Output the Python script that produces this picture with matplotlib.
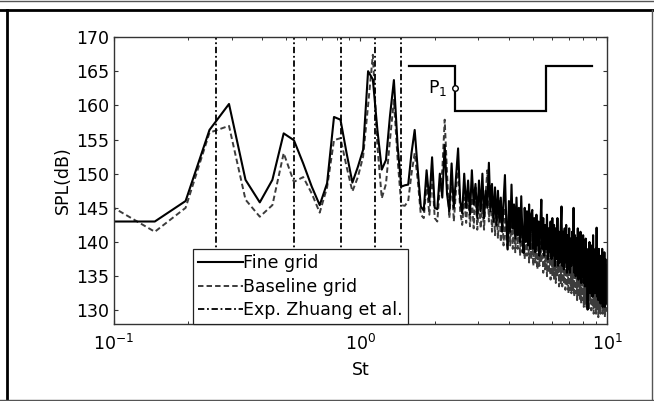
import numpy as np
import matplotlib
matplotlib.use('Agg')
import matplotlib.pyplot as plt
from matplotlib.lines import Line2D

plt.rcParams['font.family'] = 'DejaVu Sans'
plt.rcParams['mathtext.default'] = 'regular'

df = 0.0488
st = df * np.arange(2, 206)

spl_fine = [
    143.0, 143.0, 146.0, 156.4, 160.2, 149.1, 145.8, 149.1, 155.9, 154.9,
    151.5, 148.1, 145.4, 148.6, 158.3, 157.9, 153.0, 148.7, 151.0, 153.5,
    165.0, 163.8, 156.4, 150.6, 152.0, 158.5, 163.7, 154.0, 148.1, 148.3,
    148.4, 153.0, 156.4, 150.5, 145.2, 144.6, 150.5, 146.0, 152.4, 145.0,
    144.8, 150.0, 146.5, 154.2, 147.0, 144.5, 151.5, 145.0, 149.5, 153.7,
    146.0, 144.2, 150.0, 145.0, 149.0, 144.0, 150.5, 145.5, 148.5, 143.5,
    149.0, 144.5, 150.0, 143.5, 147.5, 145.0, 151.6, 144.5, 148.5, 143.0,
    148.0, 142.5, 147.5, 143.0, 146.5, 141.5, 146.0, 149.8, 143.0, 138.9,
    146.0, 141.5, 148.4, 142.0, 145.5, 140.5, 146.5, 141.0, 145.0, 140.0,
    146.7, 141.0, 138.4, 145.0, 140.0, 144.5, 139.5, 145.5, 139.0, 144.0,
    144.7, 139.0, 143.5, 138.5, 144.0, 139.5, 143.0, 138.0, 142.5, 146.2,
    139.0, 143.5, 138.0, 142.5, 139.0, 144.0, 137.5, 142.0, 138.5, 143.0,
    137.5, 143.5, 138.0, 142.5, 136.5, 142.0, 137.5, 143.5, 136.5, 141.5,
    137.0, 142.0, 145.2, 136.5, 141.5, 136.0, 142.0, 137.0, 142.5, 135.5,
    141.0, 136.0, 142.0, 135.5, 140.5, 136.5, 141.5, 137.0, 145.0, 135.5,
    141.0, 135.0, 140.5, 136.0, 142.0, 134.5, 140.0, 135.5, 141.5, 134.0,
    139.5, 135.0, 141.0, 134.0, 139.0, 133.5, 140.5, 134.0, 138.0, 130.1,
    139.0, 133.5, 140.0, 132.5, 138.5, 133.0, 139.5, 132.0, 141.0, 133.0,
    138.5, 132.5, 139.0, 133.0, 142.1, 132.0, 138.5, 131.5, 139.0, 132.0,
    138.0, 131.0, 137.5, 132.5, 139.0, 130.5, 137.0, 131.5, 138.5, 130.5,
    137.5, 131.0, 136.5, 133.0]

spl_base = [
    145.2, 141.5, 145.0, 156.0, 157.0, 146.2, 143.7, 145.4, 153.0, 148.8,
    149.5, 147.1, 144.3, 148.0, 154.9, 155.2, 151.0, 147.4, 149.5, 152.5,
    160.0, 167.4, 154.0, 146.4, 148.5, 155.0, 160.8, 152.0, 145.4, 145.3,
    146.0, 150.0, 153.0, 149.0, 144.0, 143.5, 148.5, 144.0, 150.0, 143.5,
    143.0, 148.0, 150.5, 157.9, 150.0, 143.5, 149.5, 143.0, 147.5, 151.0,
    144.5, 142.5, 146.5, 142.8, 147.0, 142.3, 146.5, 142.0, 148.0, 141.8,
    146.0, 142.0, 145.5, 141.8, 147.0, 150.5, 143.0, 148.5, 141.5, 146.0,
    141.0, 145.5, 140.5, 146.0, 140.0, 144.5, 139.5, 145.0, 140.5, 139.0,
    144.5, 139.5, 145.0, 139.0, 144.0, 138.5, 143.5, 139.0, 144.0, 138.0,
    143.5, 138.5, 141.5, 137.5, 143.0, 138.0, 142.0, 137.0, 142.5, 137.5,
    142.0, 136.5, 141.5, 137.0, 140.5, 136.0, 141.0, 136.5, 140.0, 137.0,
    141.0, 135.5, 140.0, 136.0, 139.5, 135.0, 140.5, 135.5, 139.0, 134.5,
    140.0, 135.0, 138.5, 134.5, 139.5, 134.0, 138.0, 135.0, 139.0, 133.5,
    138.0, 134.0, 139.0, 133.5, 138.5, 134.0, 137.5, 133.0, 138.5, 133.5,
    137.5, 132.5, 138.0, 133.0, 137.0, 132.5, 138.0, 133.0, 136.5, 132.0,
    137.5, 132.5, 136.5, 131.5, 137.0, 132.0, 136.0, 131.5, 137.5, 131.0,
    136.0, 131.5, 136.5, 130.5, 135.5, 131.0, 136.0, 130.5, 135.0, 131.0,
    135.5, 130.0, 135.0, 131.0, 134.5, 130.0, 135.5, 130.5, 134.0, 129.5,
    135.0, 130.5, 134.0, 129.5, 135.0, 130.5, 133.5, 129.0, 134.5, 130.0,
    133.5, 129.5, 134.5, 130.5, 133.0, 129.5, 134.0, 130.0, 133.5, 129.0,
    133.0, 130.0, 132.5, 129.8]

# experimental peak frequencies (Zhuang et al.)
st_exp = [0.259, 0.536, 0.831, 1.145, 1.464]

# little cavity sketch with probe P1
sketch_st = [1.573, 2.417, 2.417, 5.64, 5.64, 8.67]
sketch_spl = [165.8, 165.8, 159.2, 159.2, 165.8, 165.8]
probe_st, probe_spl = 2.417, 162.6
label_st = 1.879

fig = plt.figure(figsize=(6.54, 4.01), dpi=100)
ax = fig.add_axes([0.1743, 0.192, 0.7538, 0.7157])

ax.plot(st, spl_base, color='#3c3c3c', lw=1.4, dashes=(2.8, 1.6), label='Baseline grid')
ax.plot(st, spl_fine, color='black', lw=1.5, label='Fine grid')
for i, s in enumerate(st_exp):
    ax.axvline(s, color='black', lw=1.3, dashes=(3.5, 1.5, 1, 1.5),
               label='Exp. Zhuang et al.' if i == 0 else None)

ax.plot(sketch_st, sketch_spl, color='black', lw=1.6, solid_joinstyle='miter')
ax.plot([probe_st], [probe_spl], 'o', ms=4, mfc='white', mec='black', mew=1.0)
ax.text(label_st, probe_spl, '$P_1$', fontsize=12.5, ha='left', va='center')

ax.set_xscale('log')
ax.set_xlim(0.1, 10)
ax.set_ylim(128, 170)
ax.set_yticks(np.arange(130, 171, 5))
ax.set_xlabel('St', fontsize=12.5, labelpad=5)
ax.set_ylabel('SPL(dB)', fontsize=12.5, labelpad=3)
ax.tick_params(which='both', direction='in', top=True, right=True, colors='#333333',
               labelcolor='black', labelsize=12.5)
ax.tick_params(which='major', length=3, width=0.8)
ax.tick_params(which='minor', length=2, width=0.7)
ax.tick_params(axis='x', which='major', pad=7)
for sp in ax.spines.values():
    sp.set_color('#333333')
    sp.set_linewidth(1.0)

handles, labels = ax.get_legend_handles_labels()
order = [labels.index('Fine grid'), labels.index('Baseline grid'), labels.index('Exp. Zhuang et al.')]
leg = ax.legend([handles[i] for i in order], [labels[i] for i in order],
                loc='lower left', bbox_to_anchor=(0.1596, 0.0), borderaxespad=0,
                fancybox=False, framealpha=1, edgecolor='#222222', fontsize=12.5,
                handlelength=2.6, handletextpad=0.0, labelspacing=0.3,
                borderpad=0.3)
leg.get_frame().set_linewidth(0.9)
leg.set_zorder(5)

# outer frame around the whole picture
W, H = 654.0, 401.0
fig.add_artist(Line2D([0, 1], [1 - 0.5 / H, 1 - 0.5 / H], color='#555555', lw=1.0, transform=fig.transFigure))
fig.add_artist(Line2D([0, 1], [1 - 9.5 / H, 1 - 9.5 / H], color='black', lw=2.0, transform=fig.transFigure))
fig.add_artist(Line2D([7 / W, 7 / W], [0, 1 - 9.5 / H], color='black', lw=2.0, transform=fig.transFigure))
fig.add_artist(Line2D([0, 1], [1.0 / H, 1.0 / H], color='#555555', lw=1.0, transform=fig.transFigure))
fig.add_artist(Line2D([651.5 / W, 651.5 / W], [0, 1 - 9.5 / H], color='#555555', lw=1.0, transform=fig.transFigure))

fig.savefig('out.png', dpi=100)
